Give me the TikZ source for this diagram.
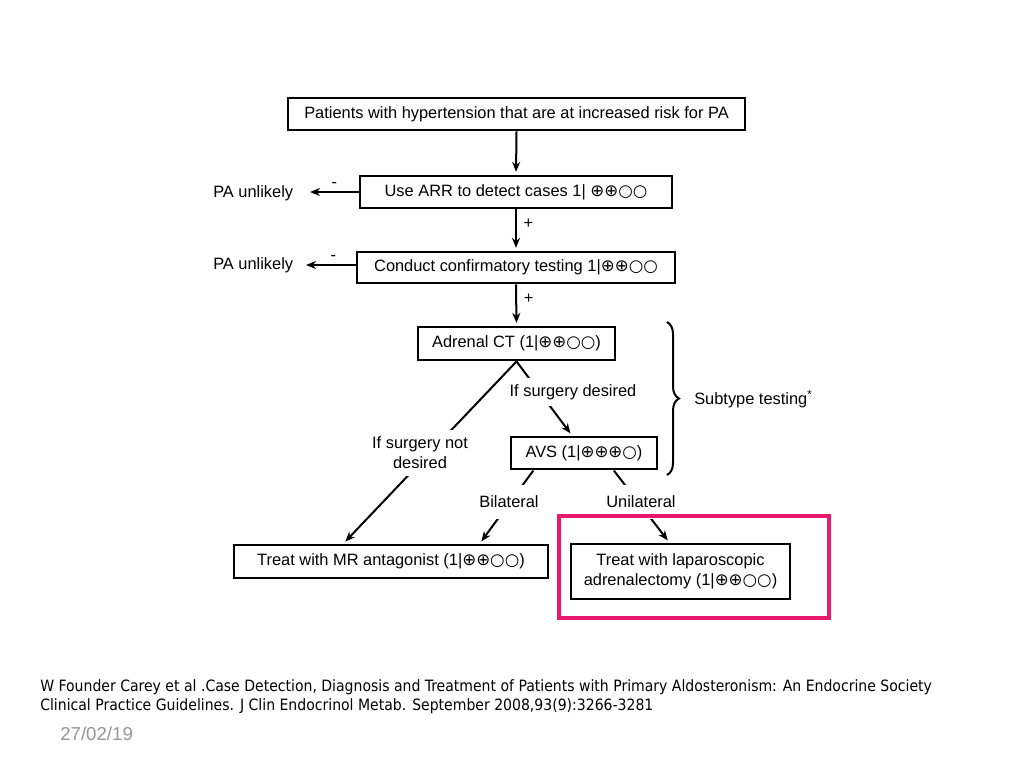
\documentclass[tikz,border=0pt]{standalone}
\usepackage{fontspec}
\usepackage{graphicx}
\setmainfont{Liberation Sans}
\newfontfamily\symfont{DejaVu Sans}
\newfontfamily\citefont{DejaVu Sans Condensed}
\usetikzlibrary{arrows.meta,calc,decorations.pathreplacing}
\newcommand{\gradeP}{{\symfont\fontsize{12.5}{12.5}\selectfont ⊕}}
\newcommand{\gradeO}{{\symfont\fontsize{12.5}{12.5}\selectfont ○}}
\newcommand{\mainsz}{\fontsize{12.3}{15}\selectfont}
\tikzset{
  box/.style={draw, line width=2.2pt, inner sep=0pt, align=center, font=\mainsz},
  arr/.style={-{Stealth[length=7.5pt,width=6pt]}, line width=1.5pt, shorten >=2pt},
  lbl/.style={font=\mainsz, inner sep=0pt, align=center},
  cut/.style={font=\mainsz, fill=white, inner xsep=1pt, inner ysep=5pt, align=center}
}
\begin{document}
\begin{tikzpicture}[x=0.75pt,y=-0.75pt]
\path[use as bounding box, fill=white] (0,0) rectangle (1024,768);

% boxes
\node[box, minimum width=342.75pt, minimum height=24pt] (top) at (516.5,114) {Patients with hypertension that are at increased risk for PA};
\node[box, minimum width=234pt, minimum height=24pt] (arr) at (516,192) {Use ARR to detect cases 1| \gradeP\gradeP\gradeO\gradeO};
\node[box, minimum width=238.5pt, minimum height=23.25pt] (conf) at (516,267.5) {Conduct confirmatory testing 1|\gradeP\gradeP\gradeO\gradeO};
\node[box, minimum width=147.75pt, minimum height=24.75pt] (ct) at (516.5,343.5) {Adrenal CT (1|\gradeP\gradeP\gradeO\gradeO)};
\node[box, minimum width=109.5pt, minimum height=24pt] (avs) at (584,453) {AVS (1|\gradeP\gradeP\gradeP\gradeO)};
\node[box, minimum width=235.5pt, minimum height=24.75pt] (mr) at (391,561.5) {Treat with MR antagonist (1|\gradeP\gradeP\gradeO\gradeO)};
\node[box, minimum width=164.25pt, minimum height=41.25pt] (lap) at (680.5,571.5) {Treat with laparoscopic\\adrenalectomy (1|\gradeP\gradeP\gradeO\gradeO)};

% side outcomes
\node[lbl, anchor=west] (u1) at (213,193) {PA unlikely};
\node[lbl, anchor=west] (u2) at (213,265) {PA unlikely};
\coordinate (u1t) at (310,192);
\coordinate (u2t) at (306,265);
\draw[arr, shorten >=0pt] (arr.west) -- node[lbl, above=3pt, pos=0.5] {-} (u1t);
\draw[arr, shorten >=0pt] (conf.west |- u2t) -- node[lbl, above=3pt, pos=0.45] {-} (u2t);

% main chain
\draw[arr] (top.south) -- (arr.north);
\draw[arr] (arr.south) -- node[lbl, right=5pt, pos=0.35] {+} (conf.north);
\draw[arr] (conf.south) -- node[lbl, right=5pt, pos=0.35] {+} (ct.north);

% branches from CT
\coordinate (mrtip) at ($(mr.north west)!0.35!(mr.north east)$);
\coordinate (avstip) at ($(avs.north west)!0.42!(avs.north east)$);
\draw[arr] (ct.south) -- (mrtip);
\draw[arr] (ct.south) -- (avstip);
\node[cut] (nsd) at (420,453) {If surgery not\\desired};
\node[cut] (sd) at (573,392) {If surgery desired};

% branches from AVS
\coordinate (avsl) at ($(avs.south west)!0.16!(avs.south east)$);
\coordinate (avsr) at ($(avs.south west)!0.70!(avs.south east)$);
\coordinate (bitip) at ($(mr.north west)!0.78!(mr.north east)$);
\coordinate (unitip) at ($(lap.north west)!0.45!(lap.north east)$);
\draw[arr] (avsl) -- (bitip);
\draw[arr] (avsr) -- (unitip);
\node[cut, inner ysep=8pt] (bil) at (509,502) {Bilateral};
\node[cut, inner ysep=8pt] (uni) at (641,502) {Unilateral};

% highlight (drawn after labels so it stays whole)
\draw[line width=2.3pt, color={rgb,255:red,232;green,25;blue,106}] (559,516) rectangle (829,618);

% brace
\draw[line width=1.5pt, decorate, decoration={brace, amplitude=9pt}] (667,322) -- (667,475);
\node[lbl, anchor=west] (sub) at (694,399) {Subtype testing\textsuperscript{*}};

% citation
\node[anchor=west, inner sep=0pt, align=left, font={\citefont\fontsize{11.7}{14.25}\selectfont}] (cite) at (40,696.5)
  {W Founder Carey et al .Case Detection, Diagnosis and Treatment of Patients with Primary Aldosteronism: An Endocrine Society\\Clinical Practice Guidelines. J Clin Endocrinol Metab. September 2008,93(9):3266-3281};
\node[anchor=west, inner sep=0pt, text={rgb,255:red,150;green,150;blue,150}, font={\fontsize{14}{16}\selectfont}] (date) at (60,734) {27/02/19};
\end{tikzpicture}
\end{document}
